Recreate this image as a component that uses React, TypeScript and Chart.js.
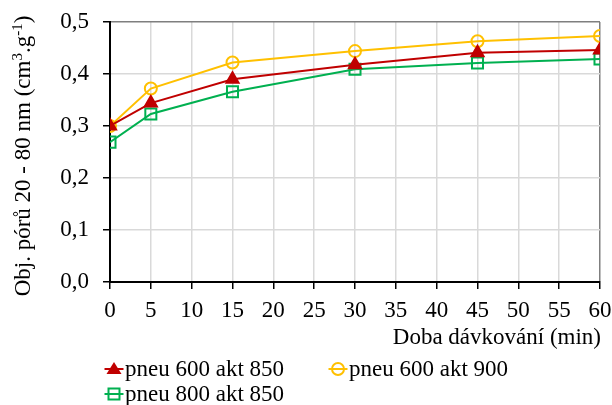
import React, { useEffect, useRef } from "react";
import { Chart, registerables } from "chart.js";

Chart.register(...registerables);

const times = [0, 5, 15, 30, 45, 60];
const seriesNames = ["pneu 600 akt 850", "pneu 600 akt 900", "pneu 800 akt 850"];
const red850 = [0.3, 0.344, 0.39, 0.418, 0.441, 0.446];
const yellow900 = [0.3, 0.372, 0.422, 0.444, 0.463, 0.473];
const green800 = [0.269, 0.323, 0.366, 0.409, 0.421, 0.429];
const xTitle = "Doba dávkování (min)";
const yTitleParts: [string, boolean][] = [
  ["Obj. pórů 20 - 80 nm (cm", false],
  ["3", true],
  [".g", false],
  ["-1", true],
  [")", false],
];

const FONT = "'Liberation Serif', 'Times New Roman', serif";
const FS = 23;
const RED = "#c00000";
const YEL = "#ffc000";
const GRN = "#00b050";

function drawMarker(ctx: CanvasRenderingContext2D, kind: string, x: number, y: number, color: string) {
  ctx.save();
  ctx.strokeStyle = color;
  ctx.fillStyle = color;
  ctx.lineWidth = 2;
  ctx.beginPath();
  ctx.moveTo(x - 9.5, y);
  ctx.lineTo(x + 9.5, y);
  ctx.stroke();
  ctx.beginPath();
  if (kind === "triangle") {
    ctx.moveTo(x, y - 7);
    ctx.lineTo(x + 7.5, y + 5);
    ctx.lineTo(x - 7.5, y + 5);
    ctx.closePath();
    ctx.fill();
  } else if (kind === "circle") {
    ctx.arc(x, y, 6, 0, Math.PI * 2);
    ctx.stroke();
  } else {
    ctx.rect(x - 5.5, y - 5.5, 11, 11);
    ctx.stroke();
  }
  ctx.restore();
}

const decorPlugin = {
  id: "decor",
  afterDraw(chart: any) {
    const ctx: CanvasRenderingContext2D = chart.ctx;
    const area = chart.chartArea;
    ctx.save();
    ctx.fillStyle = "#000";
    // x title
    ctx.font = `${FS}px ${FONT}`;
    ctx.textAlign = "right";
    ctx.textBaseline = "middle";
    ctx.fillText(xTitle, area.right + 1, 338);
    // y title with superscripts
    ctx.translate(22, 156);
    ctx.rotate(-Math.PI / 2);
    const mainFont = `${FS}px ${FONT}`;
    const supFont = `15px ${FONT}`;
    let total = 0;
    for (const [t, sup] of yTitleParts) {
      ctx.font = sup ? supFont : mainFont;
      total += ctx.measureText(t).width;
    }
    let cx = -total / 2;
    ctx.textAlign = "left";
    ctx.textBaseline = "alphabetic";
    for (const [t, sup] of yTitleParts) {
      ctx.font = sup ? supFont : mainFont;
      ctx.fillText(t, cx, sup ? 0 : 8);
      cx += ctx.measureText(t).width;
    }
    ctx.restore();

    // legend
    ctx.save();
    const items = [
      { name: seriesNames[0], kind: "triangle", color: RED, x: 114, y: 369 },
      { name: seriesNames[1], kind: "circle", color: YEL, x: 338, y: 369 },
      { name: seriesNames[2], kind: "rect", color: GRN, x: 114, y: 394 },
    ];
    ctx.font = `${FS}px ${FONT}`;
    ctx.textAlign = "left";
    ctx.textBaseline = "middle";
    for (const it of items) {
      drawMarker(ctx, it.kind, it.x, it.y, it.color);
      ctx.fillStyle = "#000";
      ctx.fillText(it.name, it.x + 11, it.y + 1);
    }
    ctx.restore();
  },
};

export default function App() {
  const ref = useRef<HTMLCanvasElement>(null);
  useEffect(() => {
    document.body.style.margin = "0";
    const toPts = (arr: number[]) => arr.map((v, i) => ({ x: times[i], y: v }));
    const chart = new Chart(ref.current!, {
      type: "line",
      data: {
        datasets: [
          {
            label: seriesNames[0],
            data: toPts(red850),
            borderColor: RED,
            backgroundColor: RED,
            borderWidth: 2,
            pointStyle: "triangle",
            pointRadius: 7,
            pointBackgroundColor: RED,
            pointBorderColor: RED,
          },
          {
            label: seriesNames[1],
            data: toPts(yellow900),
            borderColor: YEL,
            backgroundColor: YEL,
            borderWidth: 2,
            pointStyle: "circle",
            pointRadius: 6,
            pointBorderWidth: 2,
            pointBackgroundColor: "rgba(0,0,0,0)",
            pointBorderColor: YEL,
          },
          {
            label: seriesNames[2],
            data: toPts(green800),
            borderColor: GRN,
            backgroundColor: GRN,
            borderWidth: 2,
            pointStyle: "rect",
            pointRadius: 7.8,
            pointBorderWidth: 2,
            pointBackgroundColor: "rgba(0,0,0,0)",
            pointBorderColor: GRN,
          },
        ],
      },
      options: {
        responsive: false,
        animation: false,
        layout: { padding: { top: 22, right: 12, left: 0, bottom: 0 } },
        plugins: { legend: { display: false }, tooltip: { enabled: false } },
        scales: {
          x: {
            type: "linear",
            min: 0,
            max: 60,
            afterFit: (s: any) => {
              s.height = 123;
              s.paddingLeft = 0;
              s.paddingRight = 0;
            },
            ticks: {
              stepSize: 5,
              color: "#000",
              font: { family: FONT, size: FS },
              padding: 8,
              maxRotation: 0,
            },
            grid: {
              color: (c: any) => (c.tick && c.tick.value === 60 ? "#7f7f7f" : "#d9d9d9"),
              lineWidth: 1.5,
              tickColor: "#000",
              tickLength: 7,
              tickWidth: 1.5,
            },
            border: { color: "#000", width: 2 },
          },
          y: {
            type: "linear",
            min: 0,
            max: 0.5,
            afterFit: (s: any) => {
              s.width = 110;
              s.paddingTop = 0;
              s.paddingBottom = 0;
            },
            ticks: {
              stepSize: 0.1,
              color: "#000",
              font: { family: FONT, size: FS },
              padding: 14,
              callback: (v: any) => Number(v).toFixed(1).replace(".", ","),
            },
            grid: {
              color: (c: any) => (c.tick && Math.abs(c.tick.value - 0.5) < 1e-9 ? "#7f7f7f" : "#d9d9d9"),
              lineWidth: 1.5,
              tickColor: "#000",
              tickLength: 7,
              tickWidth: 1.5,
            },
            border: { color: "#000", width: 2 },
          },
        },
      },
      plugins: [decorPlugin],
    } as any);
    return () => chart.destroy();
  }, []);
  return (
    <div style={{ width: 612, height: 405 }}>
      <canvas ref={ref} width={612} height={405} />
    </div>
  );
}
